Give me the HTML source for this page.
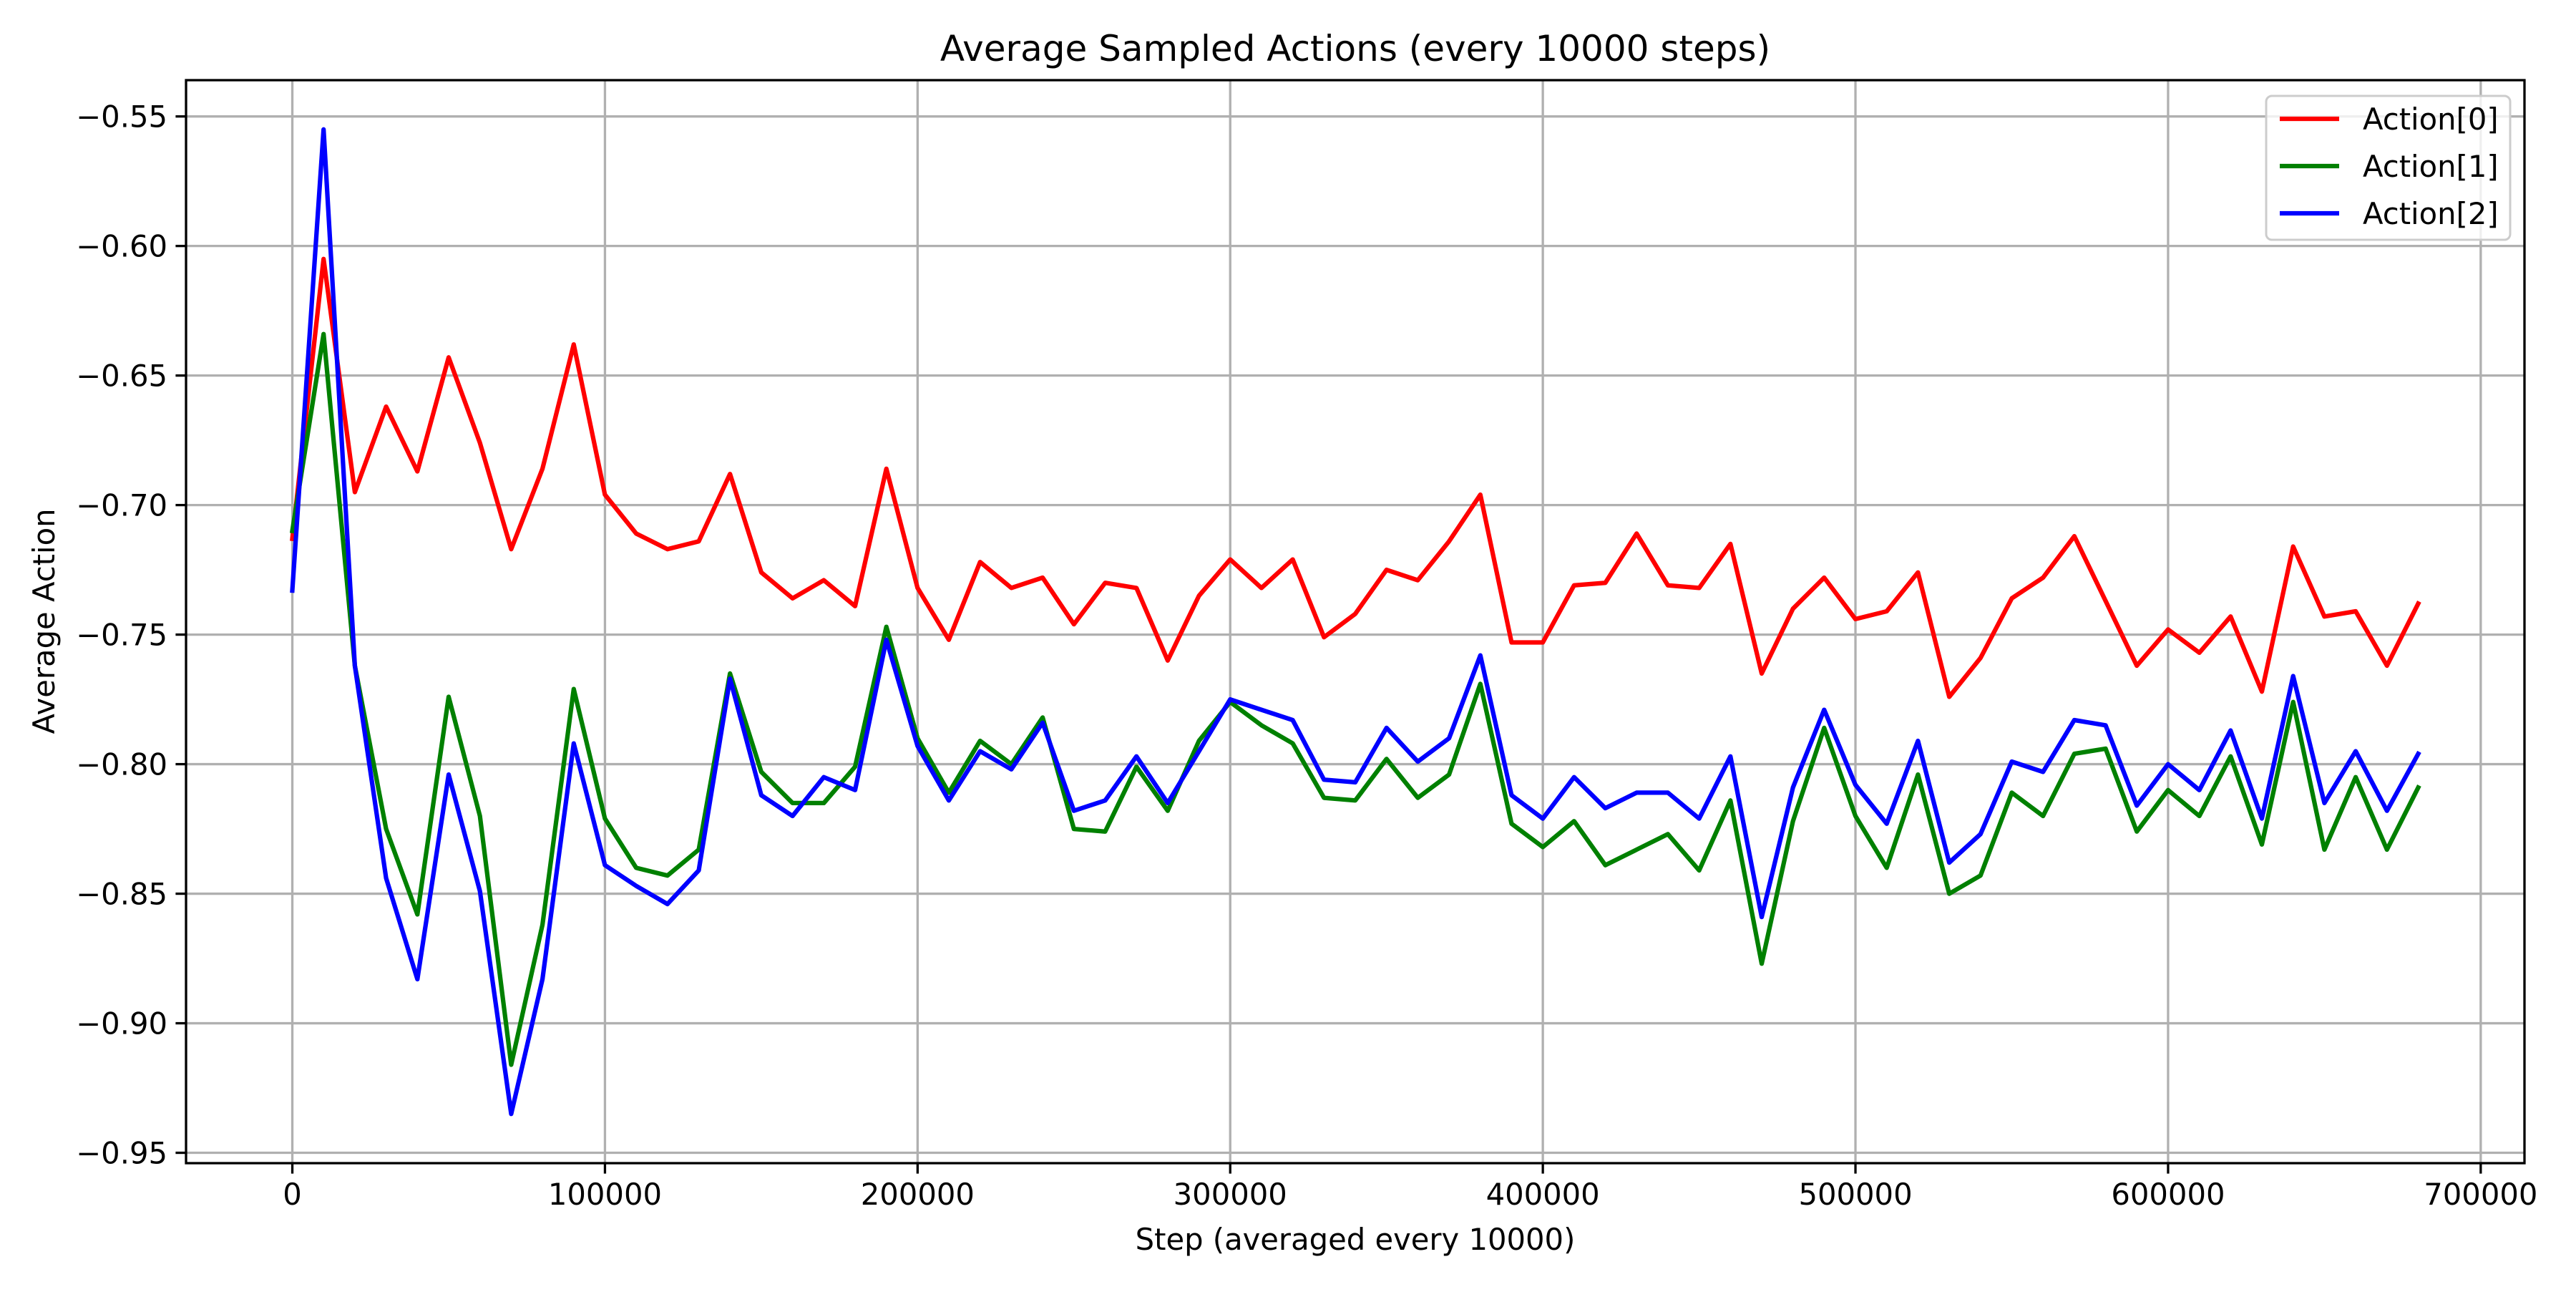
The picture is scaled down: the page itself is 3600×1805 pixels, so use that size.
<!DOCTYPE html>
<html><head><meta charset="utf-8"><style>
html,body{margin:0;padding:0;background:#fff;}
svg text{font-family:"DejaVu Sans","Liberation Sans",sans-serif;fill:#000;}
</style></head><body>
<svg id="chart" width="3600" height="1800" xmlns="http://www.w3.org/2000/svg">
<rect width="3600" height="1800" fill="#fff"/>
<g id="grid"></g>
<g id="series"></g>
<rect x="260" y="112" width="3268" height="1513" fill="none" stroke="#000" stroke-width="3.3"/>
<g id="ticks"></g>
<text x="1894" y="85" font-size="50" text-anchor="middle">Average Sampled Actions (every 10000 steps)</text>
<text x="1894" y="1746" font-size="41.7" text-anchor="middle">Step (averaged every 10000)</text>
<text x="0" y="0" font-size="41.7" text-anchor="middle" transform="translate(76,868) rotate(-90)">Average Action</text>
<g>
<rect x="3167" y="134" width="341" height="201" rx="8" fill="#fff" fill-opacity="0.8" stroke="#ccc" stroke-width="3"/>
<g id="legend-items"></g>
</g>
</svg>
<script>
const steps = [];
for (let i = 0; i <= 68; i++) steps.push(i * 10000);
const action0 = [-0.713,-0.605,-0.695,-0.662,-0.687,-0.643,-0.676,-0.717,-0.686,-0.638,-0.696,-0.711,-0.717,-0.714,-0.688,-0.726,-0.736,-0.729,-0.739,-0.686,-0.732,-0.752,-0.722,-0.732,-0.728,-0.746,-0.730,-0.732,-0.760,-0.735,-0.721,-0.732,-0.721,-0.751,-0.742,-0.725,-0.729,-0.714,-0.696,-0.753,-0.753,-0.731,-0.730,-0.711,-0.731,-0.732,-0.715,-0.765,-0.740,-0.728,-0.744,-0.741,-0.726,-0.774,-0.759,-0.736,-0.728,-0.712,-0.737,-0.762,-0.748,-0.757,-0.743,-0.772,-0.716,-0.743,-0.741,-0.762,-0.738];
const action1 = [-0.710,-0.634,-0.762,-0.825,-0.858,-0.774,-0.820,-0.916,-0.862,-0.771,-0.821,-0.840,-0.843,-0.833,-0.765,-0.803,-0.815,-0.815,-0.801,-0.747,-0.790,-0.811,-0.791,-0.800,-0.782,-0.825,-0.826,-0.801,-0.818,-0.791,-0.776,-0.785,-0.792,-0.813,-0.814,-0.798,-0.813,-0.804,-0.769,-0.823,-0.832,-0.822,-0.839,-0.833,-0.827,-0.841,-0.814,-0.877,-0.822,-0.786,-0.820,-0.840,-0.804,-0.850,-0.843,-0.811,-0.820,-0.796,-0.794,-0.826,-0.810,-0.820,-0.797,-0.831,-0.776,-0.833,-0.805,-0.833,-0.809];
const action2 = [-0.733,-0.555,-0.762,-0.844,-0.883,-0.804,-0.849,-0.935,-0.883,-0.792,-0.839,-0.847,-0.854,-0.841,-0.767,-0.812,-0.820,-0.805,-0.810,-0.752,-0.793,-0.814,-0.795,-0.802,-0.784,-0.818,-0.814,-0.797,-0.815,-0.795,-0.775,-0.779,-0.783,-0.806,-0.807,-0.786,-0.799,-0.790,-0.758,-0.812,-0.821,-0.805,-0.817,-0.811,-0.811,-0.821,-0.797,-0.859,-0.809,-0.779,-0.808,-0.823,-0.791,-0.838,-0.827,-0.799,-0.803,-0.783,-0.785,-0.816,-0.800,-0.810,-0.787,-0.821,-0.766,-0.815,-0.795,-0.818,-0.796];
const xTicks = [0,100000,200000,300000,400000,500000,600000,700000];
const yTicks = [-0.55,-0.60,-0.65,-0.70,-0.75,-0.80,-0.85,-0.90,-0.95];
const seriesNames = ["Action[0]","Action[1]","Action[2]"];
const seriesColors = ["#ff0000","#008000","#0000ff"];

const NS = "http://www.w3.org/2000/svg";
const L = 260, R = 3528, T = 112, B = 1625;
const allY = action0.concat(action1, action2);
const xmin0 = Math.min(...steps), xmax0 = Math.max(...steps);
const ymin0 = Math.min(...allY), ymax0 = Math.max(...allY);
const xm = (xmax0 - xmin0) * 0.05, ym = (ymax0 - ymin0) * 0.05;
const xlo = xmin0 - xm, xhi = xmax0 + xm, ylo = ymin0 - ym, yhi = ymax0 + ym;
function xs(v){ return L + (v - xlo) / (xhi - xlo) * (R - L); }
function ys(v){ return B - (v - ylo) / (yhi - ylo) * (B - T); }
function mk(tag, attrs, parent){ const e = document.createElementNS(NS, tag); for (const k in attrs) e.setAttribute(k, attrs[k]); parent.appendChild(e); return e; }

const grid = document.getElementById('grid');
const ticks = document.getElementById('ticks');
xTicks.forEach(t => {
  const x = xs(t);
  const g = mk('line', {x1:x, x2:x, y1:T, y2:B, stroke:'#b0b0b0', 'stroke-width':3.3}, grid);
  
  
  const tk = mk('line', {x1:x, x2:x, y1:B, y2:B+14.6, stroke:'#000', 'stroke-width':3.3}, ticks);
  
  
  const tx = mk('text', {x:x, y:B+58, 'font-size':41.7, 'text-anchor':'middle'}, ticks);
  tx.textContent = String(t);
  
  
});
yTicks.forEach(t => {
  const y = ys(t);
  const g = mk('line', {x1:L, x2:R, y1:y, y2:y, stroke:'#b0b0b0', 'stroke-width':3.3}, grid);
  
  
  const tk = mk('line', {x1:L-14.6, x2:L, y1:y, y2:y, stroke:'#000', 'stroke-width':3.3}, ticks);
  
  
  const tx = mk('text', {x:L-26, y:y+15, 'font-size':41.7, 'text-anchor':'end'}, ticks);
  tx.textContent = '\u2212' + Math.abs(t).toFixed(2);
  
  
});

const seriesG = document.getElementById('series');
[action0, action1, action2].forEach((arr, i) => {
  const pts = arr.map((v, j) => xs(steps[j]).toFixed(1) + ',' + ys(v).toFixed(1)).join(' ');
  const pl = mk('polyline', {points:pts, fill:'none', stroke:seriesColors[i], 'stroke-width':6.25, 'stroke-linejoin':'round', 'stroke-linecap':'square'}, seriesG);
  
  
});

const leg = document.getElementById('legend-items');
seriesNames.forEach((n, i) => {
  const y = 166 + i * 66;
  const ln = mk('line', {x1:3186, x2:3269, y1:y, y2:y, stroke:seriesColors[i], 'stroke-width':6.25}, leg);
  
  
  const tx = mk('text', {x:3302, y:y+15, 'font-size':41.7}, leg);
  tx.textContent = n;
  
  
});
</script>
</body></html>
